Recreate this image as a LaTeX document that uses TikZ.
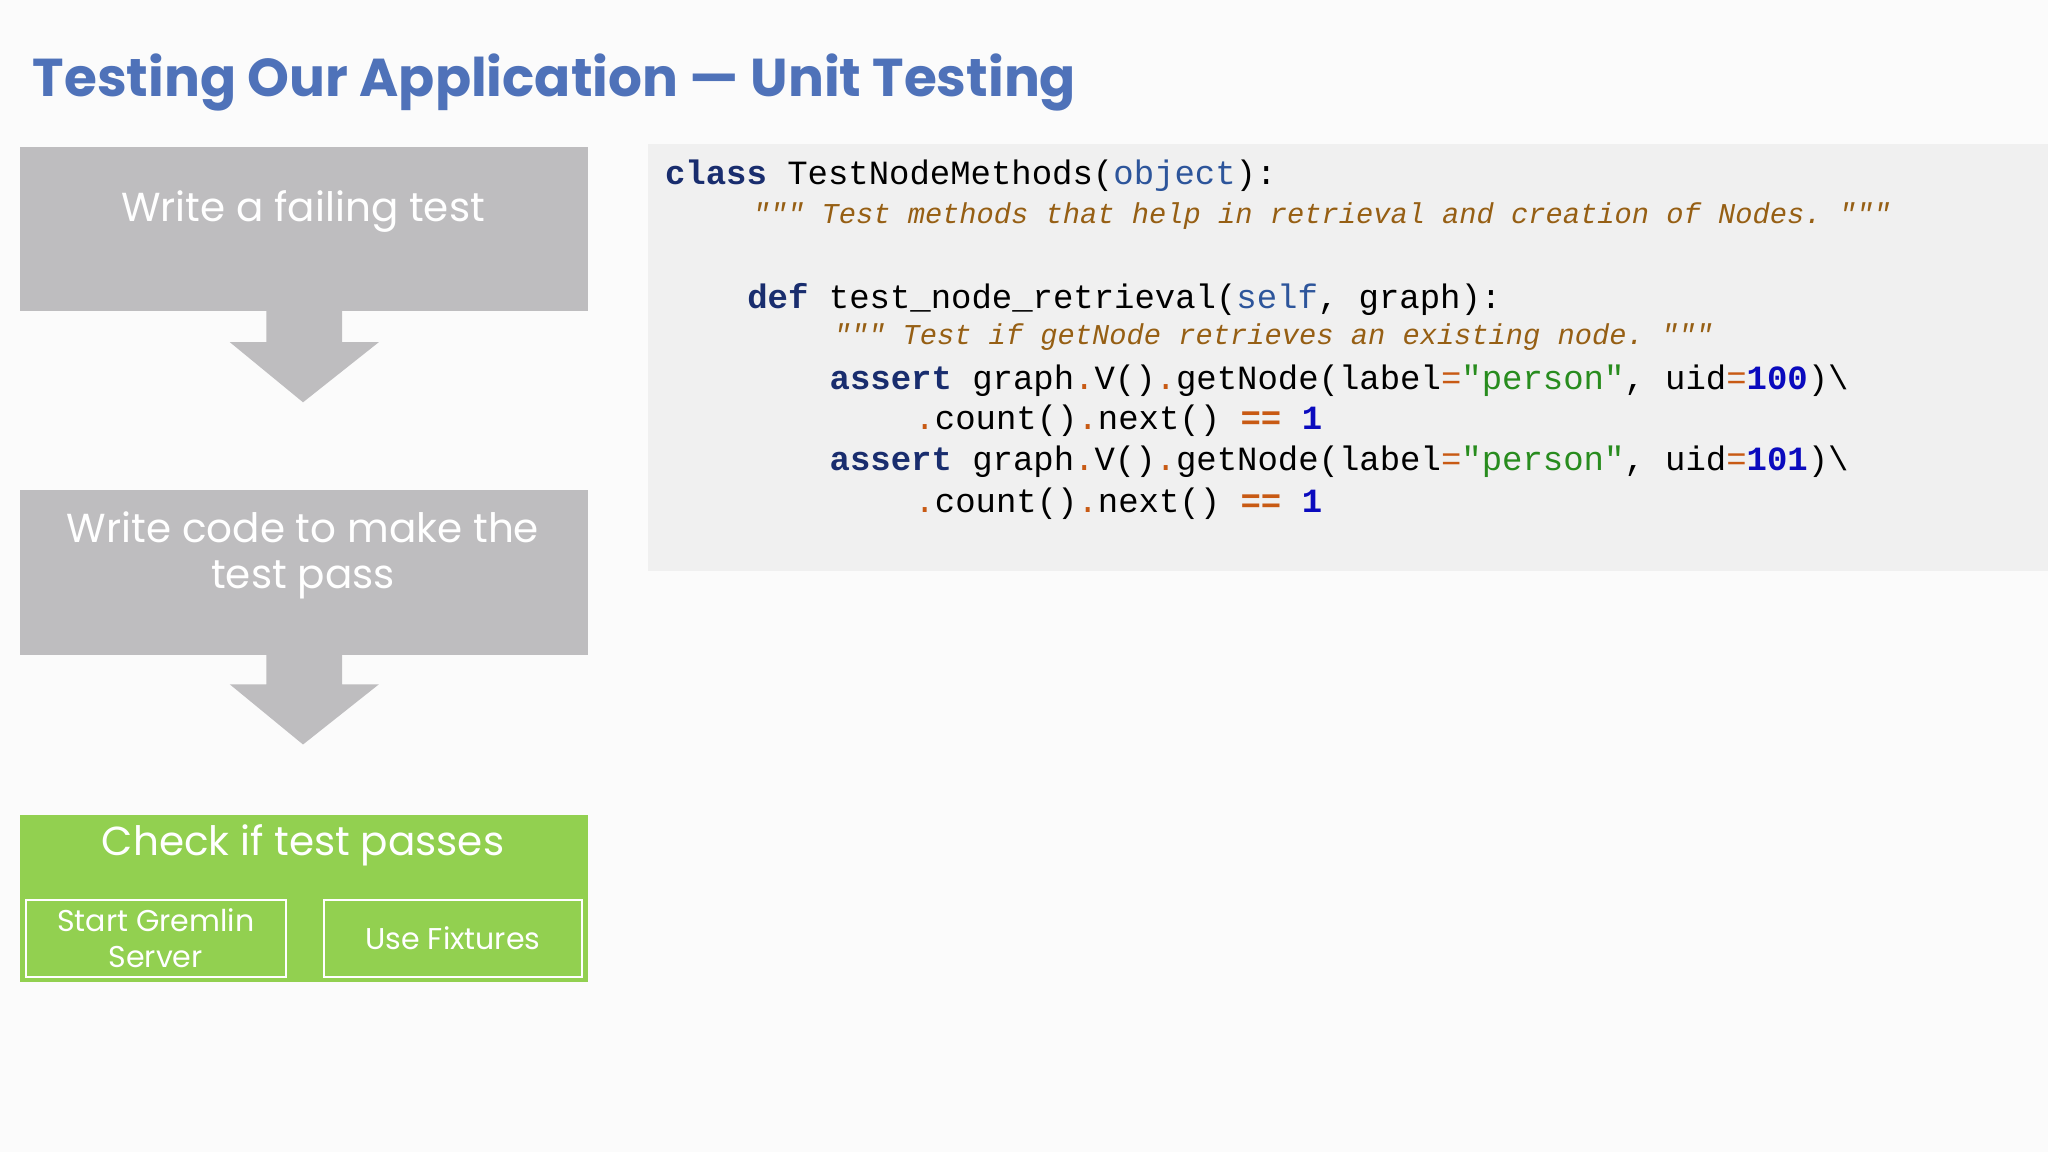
\documentclass[tikz,border=0pt]{standalone}
\usepackage{fontspec}
\setmainfont{Poppins}
\setmonofont{Liberation Mono}
\usetikzlibrary{positioning}
\definecolor{titleblue}{RGB}{79,114,185}
\definecolor{boxgray}{RGB}{190,189,191}
\definecolor{boxgreen}{RGB}{146,208,80}
\definecolor{codebg}{RGB}{240,240,240}
\definecolor{kwcol}{RGB}{25,45,110}
\definecolor{bicol}{RGB}{45,85,155}
\definecolor{opcol}{RGB}{200,90,20}
\definecolor{strcol}{RGB}{40,140,30}
\definecolor{numcol}{RGB}{10,10,190}
\definecolor{doccol}{RGB}{150,95,20}
\newcommand{\kwd}[1]{\textbf{\color{kwcol}#1}}
\newcommand{\bltn}[1]{{\color{bicol}#1}}
\newcommand{\opr}[1]{{\color{opcol}#1}}
\newcommand{\strg}[1]{{\color{strcol}#1}}
\newcommand{\numb}[1]{\textbf{\color{numcol}#1}}
\newcommand{\docs}[1]{{\fontsize{22}{24}\selectfont\itshape\color{doccol}#1}}
\tikzset{
  stepbox/.style={fill=boxgray, minimum width=435pt, minimum height=126pt, inner sep=0pt},
  steptext/.style={text=white, font=\fontsize{31}{35}\selectfont, align=center},
  subbox/.style={draw=white, line width=1.5pt, minimum width=199pt, minimum height=59pt, inner sep=0pt,
    text=white, font=\fontsize{23}{27}\selectfont, align=center},
  codeline/.style={anchor=base west, inner sep=0pt, font=\ttfamily\fontsize{26}{28}\selectfont},
  downarrow/.style={fill=boxgray}
}
\begin{document}
\begin{tikzpicture}[x=1pt,y=-1pt]
\useasboundingbox[fill={rgb,255:red,251;green,251;blue,251}] (0,0) rectangle (1568,882);
% title
\node[anchor=base west, inner sep=0pt, text=titleblue, font=\fontsize{40.8}{44}\selectfont\bfseries] (title) at (25,74) {Testing Our Application — Unit Testing};
% steps
\node[stepbox, anchor=north west] (failing) at (15,112) {};
\node[steptext] at (232,162) {Write a failing test};
\fill[downarrow] (204,238) -- (262,238) -- (262,262) -- (290,262) -- (232,308) -- (176,262) -- (204,262) -- cycle;
\node[stepbox, anchor=north west] (code) at (15,375) {};
\node[steptext] at (232,425) {Write code to make the\\test pass};
\fill[downarrow] (204,501) -- (262,501) -- (262,524) -- (290,524) -- (232,570) -- (176,524) -- (204,524) -- cycle;
\node[stepbox, fill=boxgreen, anchor=north west, minimum height=128pt] (check) at (15,624) {};
\node[steptext] at (232,647) {Check if test passes};
\node[subbox, anchor=north west] (gremlin) at (19,688) {Start Gremlin\\Server};
\node[subbox, anchor=north west, minimum width=198pt] (fixtures) at (247,688) {Use Fixtures};
% code
\fill[codebg] (496,110) rectangle (1568,437);
\node[codeline] (l1) at (509,141) {\kwd{class} TestNodeMethods(\bltn{object}):};
\node[codeline] (l2) at (576,171) {\docs{"{}"{}" Test methods that help in retrieval and creation of Nodes. "{}"{}"}};
\node[codeline] (l3) at (572,236) {\kwd{def} test\_node\_retrieval(\bltn{self}, graph):};
\node[codeline] (l4) at (638,264) {\docs{"{}"{}" Test if getNode retrieves an existing node. "{}"{}"}};
\node[codeline] (l5) at (635,298) {\kwd{assert} graph\opr{.}V()\opr{.}getNode(label\opr{=}\strg{"person"}, uid\opr{=}\numb{100})\textbackslash};
\node[codeline] (l6) at (700,329) {\opr{.}count()\opr{.}next() \opr{\textbf{==}} \numb{1}};
\node[codeline] (l7) at (635,360) {\kwd{assert} graph\opr{.}V()\opr{.}getNode(label\opr{=}\strg{"person"}, uid\opr{=}\numb{101})\textbackslash};
\node[codeline] (l8) at (700,392) {\opr{.}count()\opr{.}next() \opr{\textbf{==}} \numb{1}};
\end{tikzpicture}
\end{document}
